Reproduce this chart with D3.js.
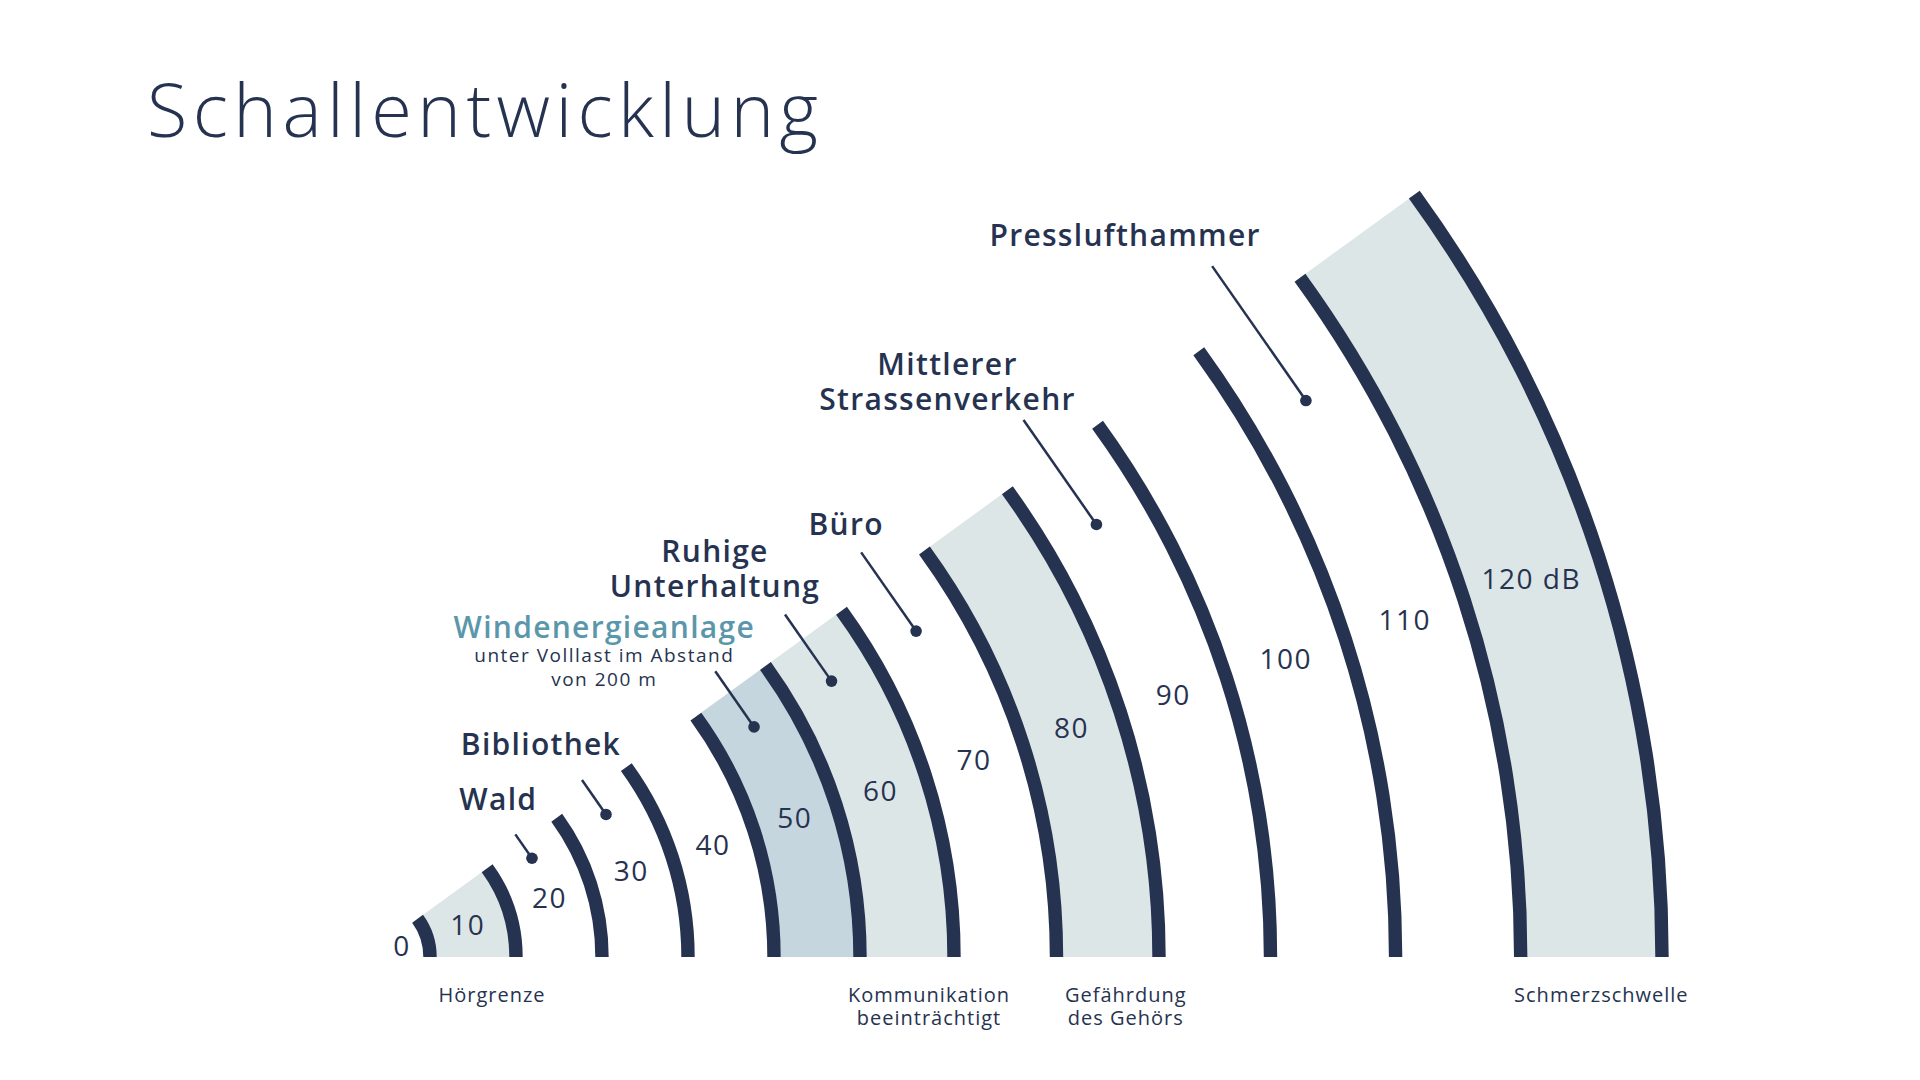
<!doctype html>
<html lang="de">
<head>
<meta charset="utf-8">
<title>Schallentwicklung</title>
<style>
  body { margin: 0; background: #fff; }
  svg { display: block; font-family: "Open Sans", sans-serif; }
</style>
</head>
<body>
<svg id="chart" width="1920" height="1080"></svg>
<script src="https://cdn.jsdelivr.net/npm/d3@7/dist/d3.min.js"></script>
<script>
// sound levels in dB, one ring each
var levels = [0, 10, 20, 30, 40, 50, 60, 70, 80, 90, 100, 110, 120];
// bands (upper dB value) with a light fill, and the highlighted one
var shadedBands = [10, 50, 60, 80, 120];
var highlightBand = 50;

// noise sources and the band they sit in
var sourceNames = [["Wald"], ["Bibliothek"], ["Windenergieanlage"], ["Ruhige", "Unterhaltung"],
                   ["Büro"], ["Mittlerer", "Strassenverkehr"], ["Presslufthammer"]];
var sourceLevels = [20, 30, 50, 60, 70, 90, 110];
var windNote = ["unter Volllast im Abstand", "von 200 m"];

// threshold labels under the baseline
var zoneNames = [["Hörgrenze"], ["Kommunikation", "beeinträchtigt"], ["Gefährdung", "des Gehörs"], ["Schmerzschwelle"]];
var zoneLevels = [10, 60, 80, 120];

var navy = "#263350";
var lightFill = "#dde6e7";
var darkFill = "#c6d6de";
var teal = "#5b97ab";

var cx = 365, cy = 957;
var span = 36;          // degrees above the baseline
var ringWidth = 13.4;

// ring radius per dB (rings get wider apart towards the loud end)
var r = d3.scaleLinear()
  .domain([0, 50, 60, 80, 90, 110, 120])
  .range([65, 495, 589, 794, 905.5, 1155.7, 1297]);

function rad(d) { return d * Math.PI / 180; }
// elevation angle (deg above horizontal) -> point
function polar(radius, elev) {
  return [cx + radius * Math.cos(rad(elev)), cy - radius * Math.sin(rad(elev))];
}
function midR(v) { return (r(v - 10) + r(v)) / 2; }

var svg = d3.select("#chart");

svg.append("text")
  .attr("x", 147).attr("y", 137)
  .attr("fill", navy)
  .style("font-size", "74px").style("font-weight", 300)
  .style("letter-spacing", "5.4px")
  .text("Schallentwicklung");

var g = svg.append("g").attr("transform", "translate(" + cx + "," + cy + ")");

var arc = d3.arc().startAngle(rad(90 - span)).endAngle(rad(90));

// shaded bands
g.selectAll("path.band")
  .data(shadedBands)
  .enter().append("path")
  .attr("class", "band")
  .attr("d", function(v) { return arc({ innerRadius: r(v - 10), outerRadius: r(v) }); })
  .attr("fill", function(v) { return v == highlightBand ? darkFill : lightFill; });

// rings
g.selectAll("path.ring")
  .data(levels)
  .enter().append("path")
  .attr("class", "ring")
  .attr("d", function(v) { return arc({ innerRadius: r(v) - ringWidth / 2, outerRadius: r(v) + ringWidth / 2 }); })
  .attr("fill", navy);

// dB numbers
svg.selectAll("text.level")
  .data(levels)
  .enter().append("text")
  .attr("class", "level")
  .attr("x", function(v) { return v == 0 ? polar(r(0) - 26, 18.5)[0] : polar(midR(v), 18)[0]; })
  .attr("y", function(v) { return v == 0 ? polar(r(0) - 26, 18.5)[1] : polar(midR(v), 18)[1]; })
  .attr("text-anchor", "middle")
  .attr("dominant-baseline", "central")
  .attr("fill", navy)
  .style("font-size", "28px").style("font-weight", 500)
  .style("letter-spacing", "1.5px")
  .text(function(v, i) { return i == levels.length - 1 ? v + " dB" : v; });

// leaders: dot at 30.6 deg, line runs along the band to 39.2 deg
var labelOffset = [[-17, -24], [-41, -25], [-111, -33], [-70, -17], [-15, -17], [-76, -10], [-87, -20]];
var lineGap = 35;

sourceLevels.forEach(function(v, i) {
  var p0 = polar(midR(v), 30.6);
  var p1 = polar(midR(v), 39.2);
  svg.append("line")
    .attr("x1", p0[0]).attr("y1", p0[1])
    .attr("x2", p1[0]).attr("y2", p1[1])
    .attr("stroke", navy).attr("stroke-width", 2.5);
  svg.append("circle")
    .attr("cx", p0[0]).attr("cy", p0[1]).attr("r", 5.8)
    .attr("fill", navy);

  var names = sourceNames[i];
  var isWind = v == highlightBand;
  var tx = p1[0] + labelOffset[i][0];
  var ty = p1[1] + labelOffset[i][1];
  var t = svg.append("text")
    .attr("text-anchor", "middle")
    .attr("fill", isWind ? teal : navy)
    .style("font-size", "30px").style("font-weight", 600)
    .style("letter-spacing", "1.3px");
  names.forEach(function(n, k) {
    t.append("tspan")
      .attr("x", tx)
      .attr("y", ty - (names.length - 1 - k) * lineGap)
      .text(n);
  });
  if (isWind) {
    windNote.forEach(function(n, k) {
      svg.append("text")
        .attr("x", tx).attr("y", ty + 24 + k * 23.3)
        .attr("text-anchor", "middle")
        .attr("fill", navy)
        .style("font-size", "19px").style("font-weight", 500)
        .style("letter-spacing", "1.5px")
        .text(n);
    });
  }
});

// threshold labels below the rings
var zoneDx = [19, 22, 18, 10];
zoneLevels.forEach(function(v, i) {
  var x = cx + midR(v) + zoneDx[i];
  var t = svg.append("text")
    .attr("text-anchor", "middle")
    .attr("fill", navy)
    .style("font-size", "20px").style("font-weight", 500)
    .style("letter-spacing", "1px");
  zoneNames[i].forEach(function(n, k) {
    t.append("tspan").attr("x", x).attr("y", 1002 + k * 23).text(n);
  });
});
</script>
</body>
</html>
